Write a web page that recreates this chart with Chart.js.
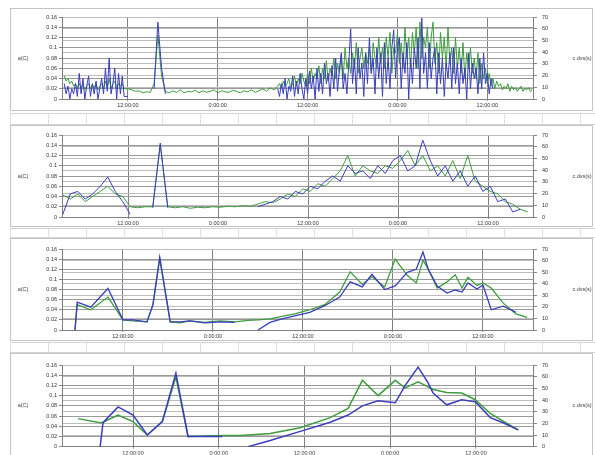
<!DOCTYPE html>
<html>
<head>
<meta charset="utf-8">
<script src="https://cdn.jsdelivr.net/npm/chart.js@4.4.1/dist/chart.umd.min.js"></script>
<style>
  body { margin: 0; background: #fff; width: 595px; height: 455px; overflow: hidden; position: relative; }
  .panel { position: absolute; left: 10px; width: 583px; border: 1px solid #c4c4c4; box-sizing: border-box; }
  .strip { position: absolute; left: 10px; width: 585px; border-top: 1px solid #d4d4d4; border-bottom: 1px solid #d4d4d4;
           background: repeating-linear-gradient(90deg, #e0e0e0 0 1px, transparent 1px 38px); }
  canvas { position: absolute; left: 11px; }
</style>
</head>
<body>
<div class="panel" style="top:8px;height:103px"></div>
<div class="strip" style="top:113px;height:10px"></div>
<div class="panel" style="top:125px;height:102px"></div>
<div class="strip" style="top:228px;height:8px"></div>
<div class="panel" style="top:238px;height:103px"></div>
<div class="strip" style="top:342px;height:9px"></div>
<div class="panel" style="top:353px;height:103px"></div>

<canvas id="p1" width="582" height="102" style="top:8px"></canvas>
<canvas id="p2" width="582" height="100" style="top:126px"></canvas>
<canvas id="p3" width="582" height="101" style="top:239px"></canvas>
<canvas id="p4" width="582" height="101" style="top:354px"></canvas>

<script>
// axis text
const leftTitle = 'a(C)';
const rightTitle = 'c.dvs(s)';
const xTickHours = [0, 12, 24, 36, 48];
const xTickLabels = ['12:00:00', '0:00:00', '12:00:00', '0:00:00', '12:00:00'];

// panel 1, part A : busy start, every 15 min from -8.5 h
const blue1a = [
  0.03, 0.01, 0.025, 0.0, 0.02, 0.01, 0.03, 0.005, 0.05, 0.01, 0.04, 0.0, 0.025, 0.045, 0.005, 0.03,
  0.01, 0.035, 0.0, 0.02, 0.04, 0.01, 0.06, 0.015, 0.08, 0.01, 0.03, 0.06, 0.0, 0.05, 0.01, 0.045, 0.005
];
const green1a = [
  0.045, 0.035, 0.04, 0.03, 0.035, 0.025, 0.03, 0.02, 0.03, 0.022, 0.028, 0.018, 0.025, 0.03, 0.02, 0.028,
  0.022, 0.03, 0.018, 0.025, 0.03, 0.02, 0.035, 0.022, 0.04, 0.02, 0.03, 0.035, 0.02, 0.03, 0.025, 0.03, 0.02
];
// panel 1, part B : quiet stretch, every 30 min from 0 h
const blue1b = [
  0.005, null, null, null, null, null, null, 0.02, 0.15, 0.06, 0.01,
  null, null, null, null, null, null, null, null, null, null, null, null, null, null, null,
  null, null, null, null, null, null, null, null, null, null, null, null, null, null
];
const green1b = [
  0.02, 0.018, 0.015, 0.016, 0.012, 0.014, 0.013, 0.03, 0.125, 0.045, 0.015,
  0.012, 0.016, 0.013, 0.018, 0.012, 0.015, 0.014, 0.017, 0.012, 0.016, 0.013, 0.015, 0.018, 0.012,
  0.016, 0.014, 0.013, 0.017, 0.015, 0.012, 0.016, 0.014, 0.018, 0.013, 0.016, 0.02, 0.015, 0.022, 0.018
];
// panel 1, part C : busy end, every 15 min from 20 h
const blue1c = [
  0.02, 0.005, 0.03, 0.01, 0.04, 0.0, 0.025, 0.015,
  0.045, 0.005, 0.035, 0.01, 0.05, 0.02, 0.0, 0.04,
  0.01, 0.055, 0.02, 0.045, 0.0, 0.06, 0.015, 0.05,
  0.01, 0.07, 0.03, 0.05, 0.005, 0.065, 0.02, 0.08,
  0.015, 0.06, 0.09, 0.02, 0.05, 0.01, 0.07, 0.137,
  0.03, 0.08, 0.01, 0.1, 0.04, 0.07, 0.005, 0.09,
  0.03, 0.119, 0.05, 0.08, 0.01, 0.1, 0.04, 0.09,
  0.005, 0.11, 0.03, 0.08, 0.02, 0.1, 0.135, 0.04,
  0.1, 0.12, 0.02, 0.09, 0.05, 0.11, 0.0, 0.08,
  0.03, 0.1, 0.06, 0.12, 0.02, 0.158, 0.05, 0.09,
  0.02, 0.11, 0.04, 0.08, 0.1, 0.01, 0.09, 0.03,
  0.08, 0.005, 0.07, 0.04, 0.09, 0.02, 0.1, 0.03,
  0.07, 0.01, 0.08, 0.03, 0.06, 0.0, 0.09, 0.02,
  0.07, 0.04, 0.06, 0.01, 0.08, 0.02, 0.09, 0.03,
  0.05, 0.01, 0.04, 0.02, null, null, null, null,
  null, null, null, null, null, null, null, null,
  null, null, null, null, null, null, null, null,
  null
];
const green1c = [
  0.025, 0.03, 0.02, 0.035, 0.025, 0.03, 0.04, 0.02,
  0.03, 0.045, 0.025, 0.04, 0.03, 0.05, 0.035, 0.025,
  0.05, 0.03, 0.06, 0.035, 0.05, 0.04, 0.065, 0.03,
  0.06, 0.04, 0.075, 0.035, 0.06, 0.045, 0.08, 0.04,
  0.07, 0.05, 0.085, 0.04, 0.1, 0.06, 0.08, 0.05,
  0.09, 0.06, 0.11, 0.05, 0.08, 0.1, 0.06, 0.09,
  0.07, 0.1, 0.05, 0.11, 0.08, 0.06, 0.12, 0.07,
  0.1, 0.06, 0.12, 0.08, 0.13, 0.05, 0.1, 0.09,
  0.13, 0.07, 0.11, 0.06, 0.14, 0.08, 0.12, 0.06,
  0.13, 0.09, 0.14, 0.06, 0.15, 0.08, 0.12, 0.1,
  0.14, 0.06, 0.12, 0.15, 0.07, 0.11, 0.05, 0.13,
  0.08, 0.12, 0.06, 0.14, 0.07, 0.1, 0.05, 0.12,
  0.06, 0.1, 0.05, 0.11, 0.04, 0.09, 0.06, 0.1,
  0.05, 0.08, 0.04, 0.09, 0.03, 0.07, 0.04, 0.06,
  0.03, 0.05, 0.025, 0.04, 0.02, 0.035, 0.025, 0.03,
  0.018, 0.025, 0.02, 0.03, 0.015, 0.025, 0.018, 0.022,
  0.015, 0.02, 0.025, 0.015, 0.02, 0.018, 0.022, 0.015,
  0.018
];

// panel 2 : hourly samples
const p2Start = -8.7, p2Step = 1;
const blue2 = [
  0.005, 0.045, 0.05, 0.035, 0.045, 0.06, 0.078, 0.05, 0.03, 0.005,
  null, null, 0.018, 0.144, 0.018,
  null, null, null, null, null, null, null, null, null, null, null,
  0.02, 0.025, 0.03, 0.04, 0.035, 0.05, 0.045, 0.06, 0.055, 0.07,
  0.08, 0.07, 0.1, 0.085, 0.09, 0.075, 0.1, 0.085, 0.11, 0.12,
  0.09, 0.1, 0.15, 0.11, 0.08, 0.1, 0.07, 0.09, 0.06, 0.08,
  0.05, 0.06, 0.03, 0.035, 0.01, 0.015, null
];
const green2 = [
  0.043, 0.035, 0.045, 0.03, 0.04, 0.05, 0.06, 0.045, 0.04, 0.02,
  0.018, 0.02, 0.02, 0.14, 0.02, 0.018, 0.02, 0.017, 0.019, 0.018,
  0.02, 0.019, 0.021, 0.02, 0.022, 0.021, 0.025, 0.03, 0.028, 0.035,
  0.045, 0.04, 0.055, 0.05, 0.065, 0.06, 0.075, 0.09, 0.12, 0.08,
  0.1, 0.09, 0.085, 0.1, 0.095, 0.11, 0.13, 0.1, 0.12, 0.09,
  0.1, 0.08, 0.11, 0.075, 0.12, 0.07, 0.06, 0.05, 0.045, 0.03,
  0.025, 0.015, 0.01
];

// panel 3 : irregular samples (hours from first grid line)
const times3 = [
  -6.4, -6.1, -4.3, -2.0, 0.0, 1.3, 3.2, 4.0, 4.9, 6.3, 7.6, 8.9, 10.9, 12.9, 14.9,
  16.7, 18.0, 19.6, 21.2, 22.9, 24.9, 26.9, 28.9, 30.3, 31.9, 33.2, 34.9, 36.3, 37.9, 39.1,
  40.0, 40.7, 41.9, 43.2, 44.3, 45.2, 46.0, 47.2, 48.0, 49.1, 50.7, 52.4, 53.9
];
const blue3 = [
  0.0, 0.055, 0.045, 0.082, 0.02, 0.02, 0.016, 0.05, 0.144, 0.016, 0.016, 0.018, 0.014, 0.016, 0.015,
  null, 0.0, 0.015, 0.022, 0.028, 0.035, 0.048, 0.065, 0.095, 0.085, 0.11, 0.08, 0.087, 0.114, 0.12,
  0.154, 0.12, 0.087, 0.073, 0.079, 0.075, 0.093, 0.081, 0.089, 0.04, 0.047, 0.035, null
];
const green3 = [
  0.0, 0.05, 0.04, 0.065, 0.02, 0.018, 0.016, 0.05, 0.14, 0.016, 0.014, 0.018, 0.015, 0.018, 0.016,
  0.019, 0.02, 0.022, 0.027, 0.032, 0.04, 0.05, 0.075, 0.115, 0.09, 0.105, 0.085, 0.14, 0.108, 0.093,
  0.138, 0.12, 0.083, 0.095, 0.109, 0.083, 0.104, 0.088, 0.093, 0.083, 0.053, 0.032, 0.025
];

// panel 4 : coarse irregular samples
const times4 = [
  -7.7, -4.6, -4.2, -2.1, 0.0, 2.0, 4.1, 6.0, 7.7, 10.1, 12.5, 15.0, 16.1, 19.2, 23.4,
  27.6, 30.1, 32.1, 34.3, 36.7, 38.1, 39.9, 41.3, 42.0, 43.9, 46.0, 47.9, 50.0, 51.8, 53.9
];
const blue4 = [
  null, 0.0, 0.047, 0.078, 0.062, 0.023, 0.049, 0.144, 0.02, 0.02, 0.02, null, 0.0, 0.012, 0.03,
  0.048, 0.062, 0.08, 0.09, 0.086, 0.12, 0.156, 0.125, 0.105, 0.082, 0.092, 0.088, 0.057, 0.047, 0.033
];
const green4 = [
  0.055, 0.047, 0.048, 0.062, 0.049, 0.023, 0.049, 0.137, 0.02, 0.021, 0.022, 0.022, 0.023, 0.026, 0.037,
  0.057, 0.075, 0.13, 0.1, 0.13, 0.115, 0.127, 0.117, 0.112, 0.106, 0.105, 0.092, 0.065, 0.05, 0.033
];

const BLUE = '#3a3dbd';
const GREEN = '#3d9d3d';
const FONT = { family: '"Liberation Sans", Arial, sans-serif', size: 5.5 };

function evenPoints(start, step, values) {
  return values.map((v, i) => ({ x: start + i * step, y: v }));
}
function pairPoints(times, values) {
  return values.map((v, i) => ({ x: times[i], y: v }));
}

const axisTitles = {
  id: 'axisTitles',
  afterDraw(chart) {
    const { ctx, chartArea } = chart;
    const mid = (chartArea.top + chartArea.bottom) / 2;
    ctx.save();
    ctx.font = '5.5px "Liberation Sans", Arial, sans-serif';
    ctx.fillStyle = '#444';
    ctx.textAlign = 'center';
    ctx.textBaseline = 'middle';
    ctx.fillText(leftTitle, 12, mid);
    ctx.fillText(rightTitle, 571, mid);
    ctx.restore();
  }
};

function makePanel(id, blue, green, opt) {
  const ctx = document.getElementById(id).getContext('2d');
  return new Chart(ctx, {
    type: 'line',
    data: {
      datasets: [
        { data: blue, borderColor: BLUE, borderWidth: opt.lw, yAxisID: 'y' },
        { data: green, borderColor: GREEN, borderWidth: opt.lw, yAxisID: 'y' }
      ]
    },
    options: {
      responsive: false,
      animation: false,
      devicePixelRatio: 1,
      spanGaps: false,
      layout: { padding: { top: opt.padTop, bottom: 0, left: 0, right: 0 } },
      elements: { point: { radius: 0 }, line: { tension: 0 } },
      plugins: { legend: { display: false }, tooltip: { enabled: false } },
      scales: {
        x: {
          type: 'linear',
          min: opt.xMin,
          max: opt.xMax,
          afterBuildTicks: s => { s.ticks = xTickHours.map(v => ({ value: v })); },
          afterFit: s => { s.height = opt.xh; },
          ticks: {
            font: FONT, color: '#333', padding: 1, maxRotation: 0, autoSkip: false,
            callback: (v, i) => xTickLabels[i]
          },
          grid: { color: '#808080', tickLength: 2, tickColor: '#999' },
          border: { color: '#808080' }
        },
        y: {
          position: 'left',
          min: 0, max: 0.16,
          afterFit: s => { s.width = 51; },
          ticks: {
            stepSize: 0.02, font: FONT, color: '#333', padding: 2,
            callback: v => String(+v.toFixed(2))
          },
          grid: { color: '#999999', tickLength: 3, tickColor: '#888' },
          border: { color: '#808080' }
        },
        y1: {
          position: 'right',
          min: 0, max: 70,
          afterFit: s => { s.width = 60; },
          ticks: { stepSize: 10, font: FONT, color: '#333', padding: 5 },
          grid: { color: '#bdbdbd', tickLength: 4, tickColor: '#888' },
          border: { color: '#808080' }
        }
      }
    },
    plugins: [axisTitles]
  });
}

const blue1 = [].concat(evenPoints(-8.5, 0.25, blue1a), evenPoints(0, 0.5, blue1b), evenPoints(20, 0.25, blue1c));
const green1 = [].concat(evenPoints(-8.5, 0.25, green1a), evenPoints(0, 0.5, green1b), evenPoints(20, 0.25, green1c));

makePanel('p1', blue1, green1,
  { lw: 1, padTop: 9, xh: 11, xMin: -8.8, xMax: 54.1 });
makePanel('p2', evenPoints(p2Start, p2Step, blue2), evenPoints(p2Start, p2Step, green2),
  { lw: 1, padTop: 9, xh: 9, xMin: -8.8, xMax: 54.0 });
makePanel('p3', pairPoints(times3, blue3), pairPoints(times3, green3),
  { lw: 1.3, padTop: 10, xh: 10, xMin: -8.13, xMax: 54.67 });
makePanel('p4', pairPoints(times4, blue4), pairPoints(times4, green4),
  { lw: 1.5, padTop: 11, xh: 8, xMin: -9.94, xMax: 55.98 });
</script>
</body>
</html>
